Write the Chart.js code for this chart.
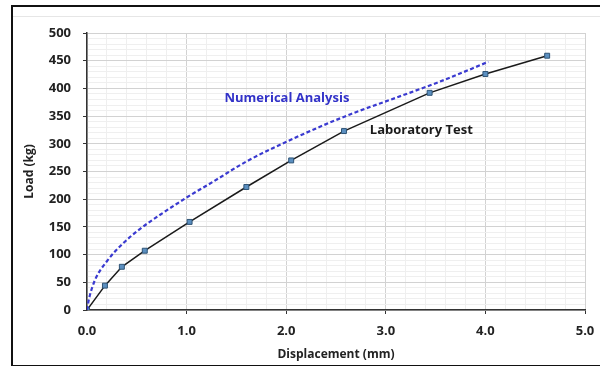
<!DOCTYPE html>
<html>
<head>
<meta charset="utf-8">
<script src="https://cdn.jsdelivr.net/npm/chart.js@4.4.1/dist/chart.umd.min.js"></script>
<style>
  html, body { margin: 0; padding: 0; background: #fff; }
  #wrap { position: relative; width: 600px; height: 366px; }
  #frame { position: absolute; left: 11px; top: 5px; width: 600px; height: 358px;
           border: 2px solid #111; pointer-events: none; }
  #inner { position: absolute; left: 13px; top: 16px; width: 590px; height: 0;
           border-top: 1px solid #e6e6e6; pointer-events: none; }
</style>
</head>
<body>
<div id="wrap">
  <canvas id="chart" width="600" height="366"></canvas>
  <div id="frame"></div>
  <div id="inner"></div>
</div>
<script>
// Laboratory test (markers)
const labX = [0, 0.18, 0.35, 0.58, 1.03, 1.6, 2.05, 2.58, 3.44, 4.0, 4.62];
const labY = [0, 44, 78, 107, 159, 222, 270, 323, 392, 426, 459];

// Numerical analysis (dashed curve)
const numX = [0, 0.02, 0.08, 0.2, 0.36, 0.53, 0.76, 1.0, 1.27, 1.6, 2.14, 2.64, 3.1, 3.54, 4.03];
const numY = [0, 20, 54, 88, 120, 146, 175, 203, 232, 268, 315, 353, 383, 412, 448];

const xTicks = [0, 1, 2, 3, 4, 5];
const yTicks = [0, 50, 100, 150, 200, 250, 300, 350, 400, 450, 500];

const toPts = (xs, ys) => xs.map((x, i) => ({ x: x, y: ys[i] }));
const isMajor = (v, list) => list.some(t => Math.abs(t - v) < 1e-6);

// text labels placed at data coordinates
const notes = [
    { text: 'Numerical Analysis', x: 1.38, y: 383, color: '#3232c8' },
    { text: 'Laboratory Test', x: 2.84, y: 325, color: '#1a1a1a' }
];

const notePlugin = {
    id: 'notes',
    afterDatasetsDraw(chart) {
        const ctx = chart.ctx;
        const xs = chart.scales.x, ys = chart.scales.y;
        ctx.save();
        ctx.font = 'bold 13px "Open Sans", sans-serif';
        ctx.textBaseline = 'middle';
        ctx.textAlign = 'left';
        notes.forEach(n => {
            ctx.fillStyle = n.color;
            ctx.fillText(n.text, xs.getPixelForValue(n.x), ys.getPixelForValue(n.y));
        });
        ctx.restore();
    }
};

const tickFont = { family: '"Open Sans", sans-serif', size: 13, weight: 'bold' };
const titleFont = { family: '"Open Sans", sans-serif', size: 12, weight: 'bold' };

new Chart(document.getElementById('chart'), {
    type: 'scatter',
    data: {
        datasets: [
            {
                label: 'Numerical Analysis',
                data: toPts(numX, numY),
                showLine: true,
                borderColor: '#3a3ad0',
                borderWidth: 2.2,
                borderDash: [4, 2.5],
                pointRadius: 0,
                cubicInterpolationMode: 'monotone'
            },
            {
                label: 'Laboratory Test',
                data: toPts(labX, labY),
                showLine: true,
                borderColor: '#1a1a1a',
                borderWidth: 1.5,
                tension: 0,
                pointStyle: 'rect',
                pointRadius: 3.5,
                pointBackgroundColor: '#5b8fc0',
                pointBorderColor: '#2f5476',
                pointBorderWidth: 1
            }
        ]
    },
    options: {
        responsive: false,
        animation: false,
        layout: { padding: { left: 22, top: 33, right: 15, bottom: 4 } },
        plugins: { legend: { display: false }, tooltip: { enabled: false } },
        scales: {
            x: {
                type: 'linear',
                min: 0, max: 5,
                afterFit: s => { s.height = 52; s.paddingRight = 5; },
                ticks: {
                    stepSize: 0.2,
                    autoSkip: false,
                    maxRotation: 0,
                    color: '#222',
                    font: tickFont,
                    padding: 9,
                    callback: v => isMajor(v, xTicks) ? v.toFixed(1) : ''
                },
                grid: {
                    color: c => isMajor(c.tick.value, xTicks) ? '#d2d2d2' : '#efefef',
                    tickColor: c => isMajor(c.tick.value, xTicks) && c.tick.value > 0 ? '#333' : 'rgba(0,0,0,0)',
                    tickLength: 4
                },
                border: { color: '#333', width: 1.5 },
                title: {
                    display: true,
                    text: 'Displacement (mm)',
                    color: '#222',
                    font: titleFont,
                    padding: { top: 0, bottom: 0 }
                }
            },
            y: {
                min: 0, max: 500,
                afterFit: s => { s.width = 65; },
                ticks: {
                    stepSize: 10,
                    autoSkip: false,
                    color: '#222',
                    font: tickFont,
                    padding: 12,
                    callback: v => isMajor(v, yTicks) ? String(v) : ''
                },
                grid: {
                    color: c => isMajor(c.tick.value, yTicks) ? '#d2d2d2' : '#efefef',
                    tickColor: c => isMajor(c.tick.value, yTicks) ? '#333' : 'rgba(0,0,0,0)',
                    tickLength: 4
                },
                border: { color: '#333', width: 1.5 },
                title: {
                    display: true,
                    text: 'Load (kg)',
                    color: '#222',
                    font: titleFont,
                    padding: { top: 0, bottom: 2 }
                }
            }
        }
    },
    plugins: [notePlugin]
});
</script>
</body>
</html>
